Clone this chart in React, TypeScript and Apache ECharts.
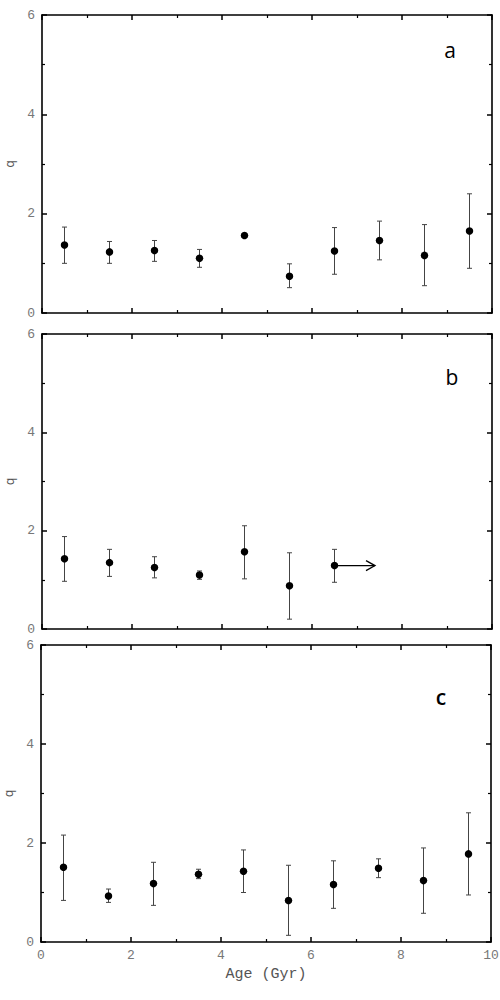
import React, { useEffect, useRef } from "react";
import * as echarts from "echarts";

// ---- data ----
const ages = [0.5, 1.5, 2.5, 3.5, 4.5, 5.5, 6.5, 7.5, 8.5, 9.5];

const qA = [1.37, 1.23, 1.26, 1.1, 1.56, 0.74, 1.25, 1.46, 1.16, 1.65];
const qALow = [1.0, 1.0, 1.04, 0.92, null, 0.51, 0.78, 1.07, 0.55, 0.9];
const qAHigh = [1.73, 1.44, 1.46, 1.28, null, 0.99, 1.72, 1.85, 1.78, 2.4];

const agesB = [0.5, 1.5, 2.5, 3.5, 4.5, 5.5, 6.5];
const qB = [1.43, 1.35, 1.25, 1.1, 1.57, 0.88, 1.29];
const qBLow = [0.97, 1.07, 1.04, 1.01, 1.02, 0.2, 0.95];
const qBHigh = [1.88, 1.62, 1.47, 1.18, 2.1, 1.55, 1.62];
// lower-limit arrow in panel b: [fromAge, q, toAge]
const arrowB = [[6.5, 1.29, 7.4]];

const qC = [1.51, 0.93, 1.18, 1.37, 1.43, 0.84, 1.16, 1.49, 1.24, 1.78];
const qCLow = [0.84, 0.8, 0.74, 1.28, 1.0, 0.135, 0.68, 1.3, 0.58, 0.95];
const qCHigh = [2.16, 1.07, 1.61, 1.47, 1.86, 1.55, 1.64, 1.68, 1.9, 2.61];

const panelLetters = ["a", "b", "c"];
const xTicks = { min: 0, max: 10, interval: 2 };
const yTicks = { min: 0, max: 6, interval: 2 };

const MONO = "'Liberation Mono', 'DejaVu Sans Mono', monospace";

export default function App() {
  const ref = useRef<HTMLDivElement>(null);

  useEffect(() => {
    if (!ref.current) return;
    const chart = echarts.init(ref.current, null, { renderer: "svg" });

    const grids = [
      { left: 42, right: 8, top: 15, height: 298, containLabel: false, outerBoundsMode: "none" },
      { left: 42, right: 8, top: 334, height: 295, containLabel: false, outerBoundsMode: "none" },
      { left: 41, right: 9, top: 645, height: 297, containLabel: false, outerBoundsMode: "none" },
    ];

    const panels = [
      { x: ages, y: qA, lo: qALow, hi: qAHigh },
      { x: agesB, y: qB, lo: qBLow, hi: qBHigh },
      { x: ages, y: qC, lo: qCLow, hi: qCHigh },
    ];

    const axisLine = { show: true, onZero: false, lineStyle: { color: "#000", width: 1.6 } };
    const axisTick = { show: true, inside: true, length: 5, lineStyle: { color: "#000", width: 1.5 } };
    const minorTick = { show: true, splitNumber: 2, length: 3, lineStyle: { color: "#000", width: 1.2 } };

    const xAxis: any[] = [];
    const yAxis: any[] = [];
    grids.forEach((g, i) => {
      const last = i === 2;
      xAxis.push({
        type: "value",
        gridIndex: i,
        position: "bottom",
        ...xTicks,
        axisLine,
        axisTick,
        minorTick,
        splitLine: { show: false },
        axisLabel: {
          show: last,
          color: "#777",
          fontFamily: MONO,
          fontSize: 13,
          margin: 7,
        },
        name: last ? "Age (Gyr)" : "",
        nameLocation: "middle",
        nameGap: 25,
        nameTextStyle: { color: "#555", fontFamily: MONO, fontSize: 15 },
      });
      xAxis.push({
        type: "value",
        gridIndex: i,
        position: "top",
        ...xTicks,
        axisLine,
        axisTick,
        minorTick,
        splitLine: { show: false },
        axisLabel: { show: false },
      });
      yAxis.push({
        type: "value",
        gridIndex: i,
        position: "left",
        ...yTicks,
        axisLine,
        axisTick,
        minorTick,
        splitLine: { show: false },
        axisLabel: {
          show: true,
          color: "#777",
          fontFamily: MONO,
          fontSize: 13,
          margin: 7,
        },
        name: "q",
        nameLocation: "middle",
        nameGap: 24,
        nameTextStyle: { color: "#555", fontFamily: "'DejaVu Sans', sans-serif", fontSize: 12 },
      });
      yAxis.push({
        type: "value",
        gridIndex: i,
        position: "right",
        ...yTicks,
        axisLine,
        axisTick,
        minorTick,
        splitLine: { show: false },
        axisLabel: { show: false },
      });
    });

    const errRender = (params: any, api: any) => {
      const x = api.value(0);
      const lo = api.value(1);
      const hi = api.value(2);
      const pTop = api.coord([x, hi]);
      const pBot = api.coord([x, lo]);
      const c = 2.5;
      const style = { stroke: "#444", lineWidth: 1 };
      return {
        type: "group",
        children: [
          { type: "line", shape: { x1: pTop[0], y1: pTop[1], x2: pBot[0], y2: pBot[1] }, style },
          { type: "line", shape: { x1: pTop[0] - c, y1: pTop[1], x2: pTop[0] + c, y2: pTop[1] }, style },
          { type: "line", shape: { x1: pBot[0] - c, y1: pBot[1], x2: pBot[0] + c, y2: pBot[1] }, style },
        ],
      };
    };

    const arrowRender = (params: any, api: any) => {
      const x0 = api.value(0);
      const y = api.value(1);
      const x1 = api.value(2);
      const p0 = api.coord([x0, y]);
      const p1 = api.coord([x1, y]);
      const style = { stroke: "#000", lineWidth: 1.3, fill: "none" };
      return {
        type: "group",
        children: [
          { type: "line", shape: { x1: p0[0], y1: p0[1], x2: p1[0], y2: p1[1] }, style },
          {
            type: "polyline",
            shape: { points: [[p1[0] - 9, p1[1] - 5], [p1[0], p1[1]], [p1[0] - 9, p1[1] + 5]] },
            style,
          },
        ],
      };
    };

    const series: any[] = [];
    panels.forEach((p, i) => {
      const errData = p.x
        .map((x, k) => (p.lo[k] == null || p.hi[k] == null ? null : [x, p.lo[k], p.hi[k]]))
        .filter((d) => d !== null);
      series.push({
        type: "custom",
        xAxisIndex: i * 2,
        yAxisIndex: i * 2,
        renderItem: errRender,
        encode: { x: 0, y: [1, 2] },
        data: errData,
        z: 2,
        silent: true,
      });
      if (i === 1) {
        series.push({
          type: "custom",
          xAxisIndex: 2,
          yAxisIndex: 2,
          renderItem: arrowRender,
          encode: { x: [0, 2], y: 1 },
          data: arrowB,
          z: 2,
          silent: true,
        });
      }
      series.push({
        type: "scatter",
        xAxisIndex: i * 2,
        yAxisIndex: i * 2,
        symbol: "circle",
        symbolSize: 7.5,
        itemStyle: { color: "#000", opacity: 1 },
        data: p.x.map((x, k) => [x, p.y[k]]),
        z: 3,
      });
    });

    const letterPos = [
      { x: 450, y: 50, weight: "normal" },
      { x: 452, y: 377, weight: "normal" },
      { x: 441, y: 697, weight: "600" },
    ];

    chart.setOption({
      animation: false,
      backgroundColor: "#fff",
      grid: grids,
      xAxis,
      yAxis,
      series,
      graphic: panelLetters.map((t, i) => ({
        type: "text",
        x: letterPos[i].x,
        y: letterPos[i].y,
        style: {
          text: t,
          fill: "#000",
          font: `${letterPos[i].weight} 21px 'Open Sans', sans-serif`,
          textAlign: "center",
          textVerticalAlign: "middle",
        },
      })),
    });

    return () => chart.dispose();
  }, []);

  return <div ref={ref} style={{ width: 500, height: 1000, position: "absolute", left: 0, top: 0 }} />;
}
